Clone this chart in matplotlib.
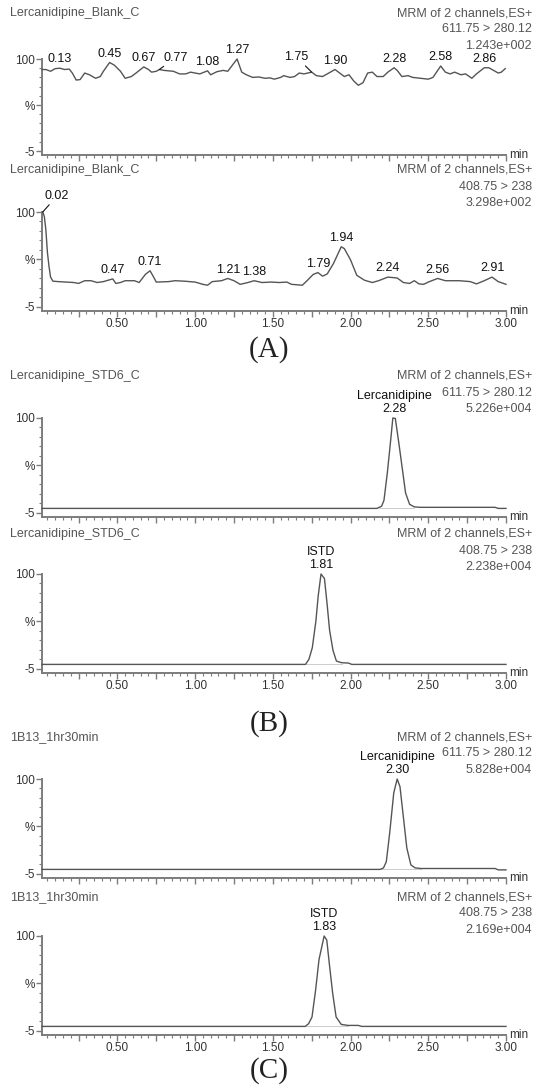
import numpy as np
import matplotlib.pyplot as plt

plt.rcParams['font.family'] = ['Liberation Sans', 'DejaVu Sans']

# ---- chromatogram data (time in min, response in %) ----
blank_hi_t = [0.015, 0.04, 0.07, 0.10, 0.13, 0.16, 0.19, 0.21, 0.235, 0.26,
              0.29, 0.32, 0.36, 0.39, 0.41, 0.45, 0.48, 0.52, 0.55, 0.59,
              0.62, 0.67, 0.70, 0.72, 0.75, 0.77, 0.80, 0.83, 0.86, 0.90,
              0.94, 0.97, 1.00, 1.03, 1.08, 1.10, 1.14, 1.18, 1.21, 1.27,
              1.30, 1.33, 1.37, 1.41, 1.45, 1.48, 1.51, 1.55, 1.57, 1.61,
              1.64, 1.67, 1.70, 1.75, 1.78, 1.82, 1.86, 1.90, 1.93, 1.96,
              1.99, 2.02, 2.05, 2.08, 2.11, 2.14, 2.17, 2.21, 2.24, 2.28,
              2.30, 2.33, 2.37, 2.40, 2.45, 2.50, 2.53, 2.58, 2.61, 2.64,
              2.67, 2.71, 2.74, 2.78, 2.81, 2.86, 2.89, 2.92, 2.95, 2.97,
              2.995]
blank_hi_y = [88, 88, 86, 89, 89.5, 88, 88.5, 84, 76, 76.5,
              84, 82, 78, 80, 86, 96, 93, 86, 78, 80,
              84, 91, 88, 85, 86, 88, 87, 86.5, 86, 83,
              83, 85, 84, 83, 86.5, 82, 85.5, 87, 86, 100,
              85, 82, 79, 79.5, 78, 78.5, 77, 79, 81, 79,
              80, 84, 83, 85, 81, 80, 84, 88, 84, 80,
              82, 75, 70, 73, 84, 85, 80, 80, 85, 90,
              87, 80, 81, 79, 78, 77, 79, 92, 85, 83,
              85, 82, 83, 78, 83, 90, 90, 87, 84, 85,
              89]
blank_hi_peaks = ['0.13', '0.45', '0.67', '0.77', '1.08', '1.27', '1.75',
                  '1.90', '2.28', '2.58', '2.86']

blank_lo_t = [0.02, 0.03, 0.04, 0.05, 0.06, 0.07, 0.085, 0.12, 0.17, 0.22,
              0.25, 0.29, 0.33, 0.37, 0.41, 0.47, 0.49, 0.52, 0.55, 0.61,
              0.64, 0.68, 0.71, 0.73, 0.75, 0.83, 0.87, 0.93, 1.00, 1.05,
              1.08, 1.11, 1.17, 1.21, 1.25, 1.29, 1.34, 1.38, 1.43, 1.49,
              1.54, 1.59, 1.62, 1.69, 1.72, 1.76, 1.79, 1.82, 1.85, 1.89,
              1.94, 1.96, 2.00, 2.04, 2.09, 2.14, 2.18, 2.24, 2.30, 2.34,
              2.38, 2.41, 2.44, 2.47, 2.50, 2.56, 2.61, 2.70, 2.77, 2.81,
              2.86, 2.91, 2.95, 3.00]
blank_lo_y = [100, 95, 80, 55, 40, 28, 23.5, 23, 22.5, 22,
              21, 24, 24, 22, 23, 26, 21, 22, 24, 24,
              22, 31, 35, 29, 22.5, 23, 24, 23.5, 22.5, 20,
              19, 23, 24, 26.5, 24, 20, 22, 24, 22, 22.5,
              22, 22.5, 20, 19, 24, 31, 33, 29, 31.5, 43,
              61.5, 59.5, 47, 30, 24.5, 22, 24, 28, 27, 22,
              21, 24, 20.5, 20, 22.5, 26.5, 24, 24, 23, 20.5,
              24, 28, 23, 20]
blank_lo_peaks = ['0.02', '0.47', '0.71', '1.21', '1.38', '1.79', '1.94',
                  '2.24', '2.56', '2.91']

std_hi_t = [0.015, 2.17, 2.20, 2.215, 2.237, 2.259, 2.272, 2.288, 2.31, 2.336,
            2.354, 2.38, 2.41, 2.45, 2.93, 2.95, 3.00]
std_hi_y = [0, 0, 2.5, 9, 40, 77, 100, 99.5, 73, 40,
            17, 4.5, 1.7, 1.2, 1.2, 0, 0]

std_lo_t = [0.015, 1.71, 1.732, 1.754, 1.777, 1.792, 1.810, 1.832, 1.849, 1.865,
            1.887, 1.909, 1.942, 1.986, 2.008, 3.00]
std_lo_y = [0, 0, 5.6, 18.5, 48, 76, 100, 95, 67, 38,
            15.5, 3.7, 1.9, 1.5, 0, 0]

smp_hi_t = [0.015, 2.19, 2.212, 2.23, 2.252, 2.278, 2.30, 2.318, 2.34, 2.362,
            2.388, 2.415, 2.454, 2.93, 2.95, 3.00]
smp_hi_y = [0, 0, 1.7, 8.5, 40.7, 84.7, 100, 91.5, 57.6, 23.7,
            5, 1.7, 1, 1, -0.5, -0.5]

smp_lo_t = [0.015, 1.708, 1.730, 1.752, 1.775, 1.797, 1.830, 1.847, 1.863, 1.885,
            1.907, 1.940, 1.984, 2.050, 2.072, 3.00]
smp_lo_y = [0, 0, 3, 10.4, 40, 73.9, 100, 95.5, 70, 36.6,
            10.4, 2.2, 1.1, 1.1, 0, 0]

sample_names = ['Lercanidipine_Blank_C', 'Lercanidipine_Blank_C',
                'Lercanidipine_STD6_C', 'Lercanidipine_STD6_C',
                '1B13_1hr30min', '1B13_1hr30min']
transitions = ['611.75 > 280.12', '408.75 > 238'] * 3
intensities = ['1.243e+002', '3.298e+002', '5.226e+004',
               '2.238e+004', '5.828e+004', '2.169e+004']
compounds = [None, None, 'Lercanidipine', 'ISTD', 'Lercanidipine', 'ISTD']
peak_times = [blank_hi_peaks, blank_lo_peaks, ['2.28'], ['1.81'], ['2.30'], ['1.83']]
traces = [(blank_hi_t, blank_hi_y), (blank_lo_t, blank_lo_y),
          (std_hi_t, std_hi_y), (std_lo_t, std_lo_y),
          (smp_hi_t, smp_hi_y), (smp_lo_t, smp_lo_y)]
group_labels = ['(A)', '(B)', '(C)']

# ---- layout (pixels) ----
W, H = 534, 1088
fig = plt.figure(figsize=(W / 100, H / 100), dpi=100)
fig.patch.set_facecolor('white')

LINE = '#555555'
AXC = '#7c7c7c'
TXT = '#555555'
left_px, right_px = 42, 506
tops = [59, 212, 418, 574, 779, 936]
heights = [96, 99, 99, 99, 99, 99]
header_y = [13, 170, 376, 534, 737, 897]
group_y = [350, 724, 1071]

# labels with a leader line: (panel, text) -> (dx, dy, ha) in pixels
leaders = {(0, '0.77'): (4, 6, 'left'),
           (0, '1.75'): (-3, 9, 'right'),
           (1, '0.02'): (2, 10, 'left')}

for i in range(6):
    t, y = traces[i]
    top = tops[i]
    ax = fig.add_axes([left_px / W, 1 - (top + heights[i]) / H,
                       (right_px - left_px) / W, heights[i] / H])
    ax.patch.set_alpha(0)
    ax.plot(t, y, color=LINE, lw=1.0, clip_on=False, zorder=3)
    ax.set_xlim(0.015, 3.0)
    ax.set_ylim(-9.5, 100)
    for s in ('top', 'right'):
        ax.spines[s].set_visible(False)
    for s in ('left', 'bottom'):
        ax.spines[s].set_color(AXC)
        ax.spines[s].set_linewidth(1.4)

    major = np.arange(0.25, 3.001, 0.25)
    ax.set_xticks(major)
    ax.set_xticks(np.arange(0.05, 3.001, 0.05), minor=True)
    if i % 2 == 1:
        ax.set_xticklabels([f'{v:.2f}' if abs(v * 2 - round(v * 2)) < 1e-6 else ''
                            for v in major])
    else:
        ax.set_xticklabels([])
    ax.set_yticks([-5, 47.5, 100])
    ax.set_yticklabels(['-5', '%', '100'])
    ax.set_yticks(np.arange(-5, 100.1, 10.5), minor=True)
    ax.tick_params(which='major', length=4, width=1, color=AXC,
                   labelsize=8.5, labelcolor='#333333', pad=1)
    ax.tick_params(which='minor', length=2.3, width=0.8, color=AXC)
    ax.text(1.006, 0, 'min', transform=ax.transAxes, ha='left', va='center',
            fontsize=8.5, color='#333333')

    # integration baseline under identified peaks
    if compounds[i]:
        ta, ya = np.asarray(t), np.asarray(y)
        p0 = float(peak_times[i][0])
        near = (np.abs(ta - p0) < 0.17) & (ya > 0.9)
        ax.plot([ta[near].min() - 0.02, ta[near].max()], [0, 0],
                color='#c4c4c4', lw=0.6, zorder=2)

    # peak labels
    for s in peak_times[i]:
        pt = float(s)
        pv = np.interp(pt, t, y)
        txt = s if compounds[i] is None else compounds[i] + '\n' + s
        if (i, s) in leaders:
            dx, dy, ha = leaders[(i, s)]
            ax.annotate(txt, xy=(pt, pv), xytext=(dx * 0.72, dy * 0.72),
                        textcoords='offset points', ha=ha, va='bottom',
                        fontsize=9, color='#111111', annotation_clip=False,
                        arrowprops=dict(arrowstyle='-', color='#111111', lw=0.8,
                                        shrinkA=0, shrinkB=0))
        else:
            ax.annotate(txt, xy=(pt, pv), xytext=(0, 2),
                        textcoords='offset points', ha='center', va='bottom',
                        fontsize=9, color='#111111', annotation_clip=False,
                        linespacing=1.15)

    # header texts
    hy = header_y[i]
    fig.text(10 / W, 1 - hy / H, sample_names[i], ha='left', va='center',
             fontsize=9, color=TXT)
    fig.text(532 / W, 1 - hy / H, 'MRM of 2 channels,ES+', ha='right',
             va='center', fontsize=9, color=TXT)
    fig.text(532 / W, 1 - (hy + 16.5) / H, transitions[i], ha='right',
             va='center', fontsize=9, color=TXT)
    fig.text(532 / W, 1 - (hy + 33) / H, intensities[i], ha='right',
             va='center', fontsize=9, color=TXT)

for lab, gy in zip(group_labels, group_y):
    fig.text(269 / W, 1 - gy / H, lab, ha='center', va='center',
             fontsize=21, family='Liberation Serif', color='#222222')

fig.savefig('out.png', dpi=100, facecolor='white')
